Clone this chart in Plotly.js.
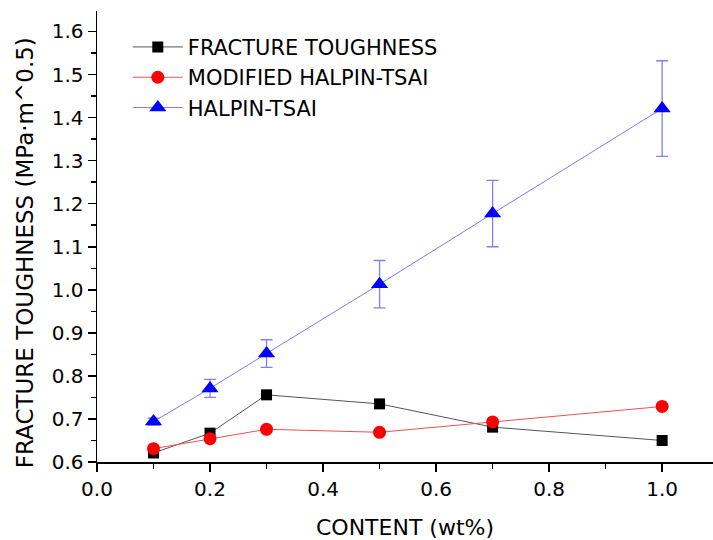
<!DOCTYPE html>
<html>
<head>
<meta charset="utf-8">
<script src="https://cdn.plot.ly/plotly-3.0.1.min.js"></script>
<style>html,body{margin:0;padding:0;background:#fff;}#chart{width:713px;height:540px;}</style>
</head>
<body>
<div id="chart"></div>
<script>
var content = [0.1, 0.2, 0.3, 0.5, 0.7, 1.0];
var fractureToughness = [0.621, 0.667, 0.756, 0.735, 0.681, 0.650];
var modifiedHalpinTsai = [0.631, 0.654, 0.676, 0.669, 0.693, 0.729];
var halpinTsai = [0.694, 0.771, 0.852, 1.013, 1.177, 1.421];
var halpinTsaiErr = [0.008, 0.021, 0.032, 0.055, 0.077, 0.111];
var seriesNames = ['FRACTURE TOUGHNESS', 'MODIFIED HALPIN-TSAI', 'HALPIN-TSAI'];
var xTicks = [0.0, 0.2, 0.4, 0.6, 0.8, 1.0];
var xTickLabels = ['0.0', '0.2', '0.4', '0.6', '0.8', '1.0'];
var yTicks = [0.6, 0.7, 0.8, 0.9, 1.0, 1.1, 1.2, 1.3, 1.4, 1.5, 1.6];
var yTickLabels = ['0.6', '0.7', '0.8', '0.9', '1.0', '1.1', '1.2', '1.3', '1.4', '1.5', '1.6'];
var xTitle = 'CONTENT (wt%)';
var yTitle = 'FRACTURE TOUGHNESS (MPa·m^0.5)';

var font = 'DejaVu Sans, Arial, sans-serif';

var traces = [
  {
    x: content, y: fractureToughness, name: seriesNames[0],
    type: 'scatter', mode: 'lines+markers',
    line: {color: '#555555', width: 1},
    marker: {symbol: 'square', size: 11, color: '#000000'}
  },
  {
    x: content, y: modifiedHalpinTsai, name: seriesNames[1],
    type: 'scatter', mode: 'lines+markers',
    line: {color: '#f05050', width: 1},
    marker: {symbol: 'circle', size: 13, color: '#ff0000'}
  },
  {
    x: content, y: halpinTsai, name: seriesNames[2],
    type: 'scatter', mode: 'lines+markers',
    line: {color: '#7b7bf0', width: 1},
    marker: {symbol: 'triangle-up', size: 15, color: '#0000ff'},
    error_y: {type: 'data', array: halpinTsaiErr, visible: true, color: '#8080ee', thickness: 1.3, width: 6}
  }
];

var layout = {
  width: 713, height: 540,
  margin: {l: 97, r: 0, t: 11, b: 78},
  paper_bgcolor: '#ffffff', plot_bgcolor: '#ffffff',
  font: {family: font, color: '#000000', size: 20},
  showlegend: true,
  legend: {
    x: 0.05, y: 0.965, xanchor: 'left', yanchor: 'top',
    bgcolor: 'rgba(0,0,0,0)', font: {family: font, size: 21, color: '#000'},
    tracegroupgap: 0, itemwidth: 50
  },
  xaxis: {
    range: [0, 1.09],
    tickmode: 'array', tickvals: xTicks, ticktext: xTickLabels,
    ticks: 'outside', ticklen: 8, tickwidth: 1.5, tickcolor: '#000',
    minor: {dtick: 0.1, ticks: 'outside', ticklen: 5, tickwidth: 1.5, tickcolor: '#000'},
    showline: true, linecolor: '#000', linewidth: 1.5,
    showgrid: false, zeroline: false,
    tickfont: {family: font, size: 20, color: '#000'},
    title: {text: xTitle, font: {family: font, size: 22, color: '#000'}, standoff: 20},
    automargin: false
  },
  yaxis: {
    range: [0.6, 1.6476],
    tickmode: 'array', tickvals: yTicks, ticktext: yTickLabels,
    ticks: 'outside', ticklen: 8, tickwidth: 1.5, tickcolor: '#000',
    minor: {dtick: 0.05, ticks: 'outside', ticklen: 5, tickwidth: 1.5, tickcolor: '#000'},
    showline: true, linecolor: '#000', linewidth: 1.5,
    showgrid: false, zeroline: false,
    tickfont: {family: font, size: 20, color: '#000'},
    automargin: false
  },
  annotations: [{
    text: yTitle, textangle: -90,
    xref: 'paper', yref: 'paper',
    x: -0.117, y: 0.465, xanchor: 'center', yanchor: 'middle',
    showarrow: false,
    font: {family: font, size: 23, color: '#000'}
  }]
};

Plotly.newPlot('chart', traces, layout, {displayModeBar: false, staticPlot: true});
</script>
</body>
</html>
